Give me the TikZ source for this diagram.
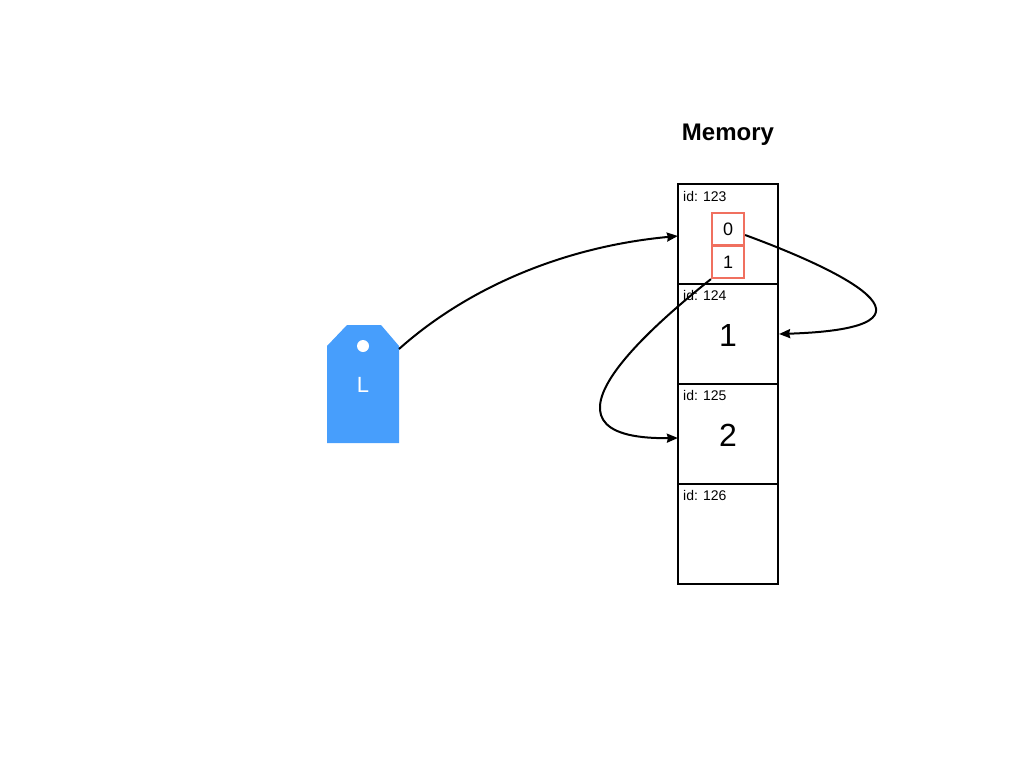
\documentclass[tikz,border=0pt]{standalone}
\usepackage{fontspec}
\setmainfont{Liberation Sans}
\usepackage{xcolor}
\usetikzlibrary{arrows.meta, positioning}
\definecolor{tagblue}{HTML}{479EFC}
\definecolor{slotred}{HTML}{F0705F}

\begin{document}
\begin{tikzpicture}[
    x=1pt, y=-1pt,
    cell/.style={rectangle, draw=black, line width=2.2pt, minimum width=100pt, minimum height=100pt, inner sep=0pt},
    number/.style={inner sep=0pt, font=\fontsize{32}{36}\selectfont},
    slot/.style={rectangle, draw=slotred, line width=2.2pt, fill=white, minimum width=32pt, minimum height=32pt, inner sep=0pt, font=\fontsize{18}{20}\selectfont},
    idlabel/.style={inner sep=0pt, anchor=west, font=\fontsize{14}{15}\selectfont},
    arrow/.style={-{Stealth[length=11pt, width=9pt, inset=1pt]}, line width=2pt}
]
\useasboundingbox (0, 0) rectangle (1024, 768);

% Title
\node[font=\fontsize{24}{28}\bfseries\selectfont] (title) at (728, 135) {Memory};

% Memory cells
\node[cell] (cella) at (728, 234) {};
\node[cell] (cellb) at (728, 334) {};
\node[cell] (cellc) at (728, 434) {};
\node[cell] (celld) at (728, 534) {};
\node[number] (numb) at (728, 335.5) {1};
\node[number] (numc) at (728, 435.5) {2};

% Ids
\node[idlabel] (ida) at (683, 196.5) {id: 123};
\node[idlabel] (idb) at (683, 295.5) {id: 124};
\node[idlabel] (idc) at (683, 395.5) {id: 125};
\node[idlabel] (idd) at (683, 495.5) {id: 126};

% Slots
\node[slot] (slota) at (728, 229) {0};
\node[slot] (slotb) at (728, 262) {1};

% Tag
\fill[tagblue] (327, 346) -- (347, 325) -- (381, 325) -- (399, 346) -- (399, 443) -- (327, 443) -- cycle;
\fill[white] (363, 346) circle (6);
\node[text=white, font=\fontsize{22}{24}\selectfont] (tagname) at (363, 385) {L};
\coordinate (tagcorner) at (399, 349);

% Pointers
\draw[arrow] (tagcorner) .. controls (465, 290) and (560, 247) .. ([xshift=1pt, yshift=-2pt]cella.west);
\draw[arrow] ([yshift=-6pt]slota.east) .. controls (835, 268) and (965, 328) .. (cellb.east);
\draw[arrow] (slotb.south west) .. controls (660, 320) and (515, 440) .. ([xshift=1pt, yshift=-4pt]cellc.west);

\end{tikzpicture}
\end{document}
